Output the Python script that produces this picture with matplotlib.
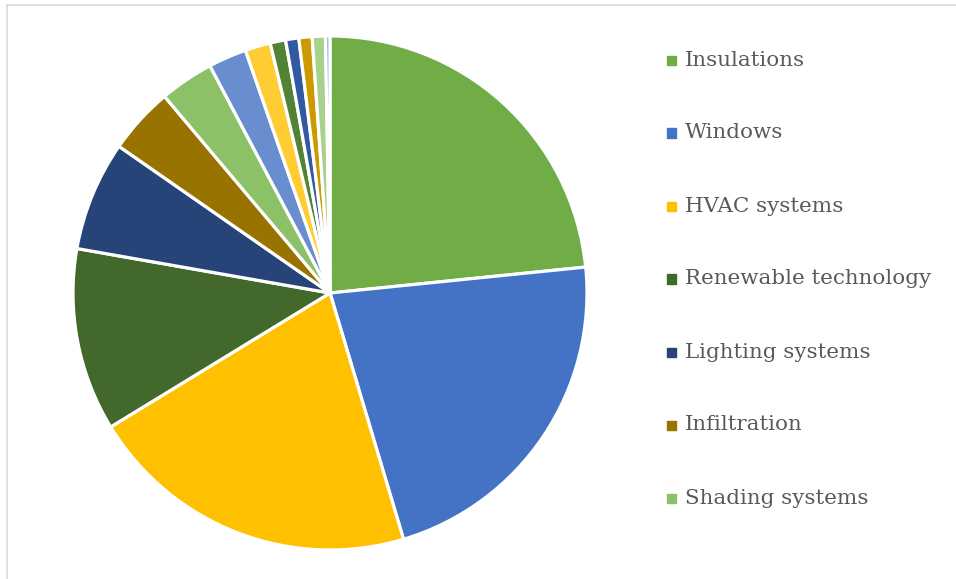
import numpy as np
import matplotlib.pyplot as plt
from matplotlib.lines import Line2D
from matplotlib.patches import Rectangle

# Share of measures (%) - read clockwise from the top
legend_labels = ['Insulations', 'Windows', 'HVAC systems', 'Renewable technology',
                 'Lighting systems', 'Infiltration', 'Shading systems']
values = [23.4, 22.0, 20.9, 11.5, 6.9, 4.2, 3.4, 2.4, 1.6, 0.97, 0.83, 0.83, 0.83, 0.28]
colors = ['#70AD47', '#4472C4', '#FFC000', '#43682B', '#264478', '#997300', '#8CC168',
          '#698ED0', '#FFCD33', '#548235', '#335AA1', '#CC9A00', '#A9D18E', '#8FAADC']

W, H = 956, 579
fig = plt.figure(figsize=(W / 100, H / 100), dpi=100)

# pie
ax = fig.add_axes([73 / W, 29 / H, 514 / W, 514 / H])
wedges, _ = ax.pie(values, colors=colors, startangle=90, counterclock=False,
                   radius=1, wedgeprops=dict(edgecolor='white', linewidth=2.3))
ax.set_xlim(-1, 1)
ax.set_ylim(-1, 1)
ax.set_aspect('equal')
ax.axis('off')

# legend (only the first seven entries are shown)
for i, lab in enumerate(legend_labels):
    y = 1 - (60 + 73 * i) / H
    fig.add_artist(Rectangle((667 / W, y - 4.5 / H), 9 / W, 9 / H,
                             transform=fig.transFigure, color=wedges[i].get_facecolor()))
    fig.text(685 / W, y, lab, fontsize=15.4, family='DejaVu Serif', color='#595959',
             va='center', ha='left')

# chart area border
fig.add_artist(Line2D([7 / W, 7 / W], [0, 1 - 5 / H], color='#D9D9D9', lw=1.2))
fig.add_artist(Line2D([7 / W, 1], [1 - 5 / H, 1 - 5 / H], color='#D9D9D9', lw=1.2))

plt.savefig('out.png', dpi=100)
